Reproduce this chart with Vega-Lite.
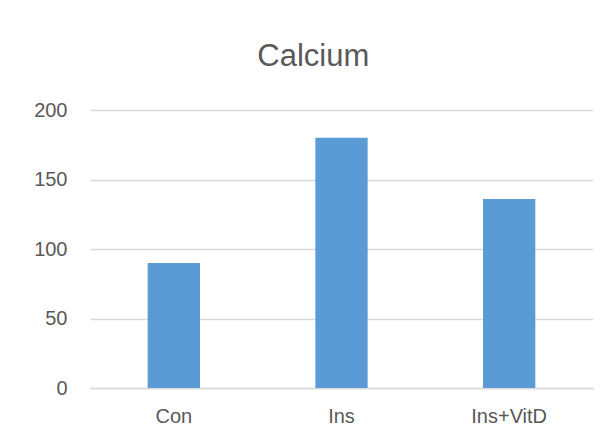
{
  "$schema": "https://vega.github.io/schema/vega-lite/v6.json",
  "autosize": {"type": "none"},
  "width": 503,
  "height": 278,
  "padding": {"left": 90, "top": 110, "right": 20, "bottom": 57},
  "background": "white",
  "title": {
    "text": "Calcium",
    "font": "Liberation Sans",
    "fontSize": 31,
    "fontWeight": "normal",
    "color": "#595959",
    "frame": "bounds",
    "anchor": "middle",
    "baseline": "alphabetic",
    "offset": 3
  },
  "data": {
    "values": [
      {"group": "Con", "calcium": 90},
      {"group": "Ins", "calcium": 180},
      {"group": "Ins+VitD", "calcium": 136}
    ]
  },
  "mark": {"type": "bar", "color": "#5b9bd5"},
  "encoding": {
    "x": {
      "field": "group",
      "type": "nominal",
      "sort": null,
      "scale": {"paddingInner": 0.688, "paddingOuter": 0.344},
      "axis": {
        "title": null,
        "labelAngle": 0,
        "labelFont": "Liberation Sans",
        "labelFontSize": 20,
        "labelColor": "#595959",
        "labelPadding": 18,
        "ticks": false,
        "domainColor": "#d9d9d9",
        "domainWidth": 1.3
      }
    },
    "y": {
      "field": "calcium",
      "type": "quantitative",
      "scale": {"domain": [0, 200], "nice": false},
      "axis": {
        "title": null,
        "values": [0, 50, 100, 150, 200],
        "labelFont": "Liberation Sans",
        "labelFontSize": 20,
        "labelColor": "#595959",
        "labelPadding": 23,
        "ticks": false,
        "domain": false,
        "gridColor": "#d9d9d9",
        "gridWidth": 1.3
      }
    }
  },
  "config": {"view": {"stroke": null}}
}
